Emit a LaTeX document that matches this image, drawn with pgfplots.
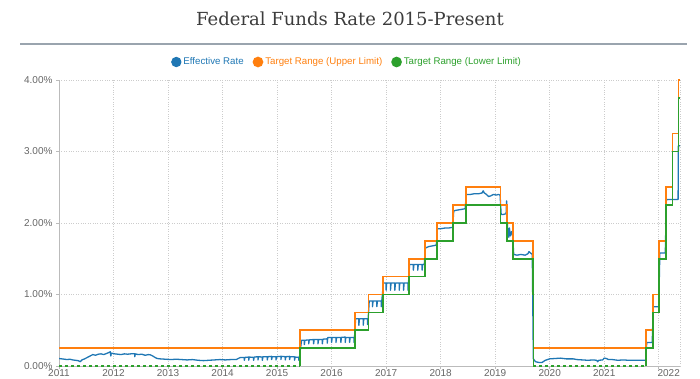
\documentclass[border=0pt]{standalone}
\usepackage{pgfplots}
\pgfplotsset{compat=1.18}
\usepackage{fontspec}
\setmainfont{Liberation Sans}
\newfontfamily\titlefont{DejaVu Serif}
\definecolor{cblue}{HTML}{1F77B4}
\definecolor{corange}{HTML}{FF7F0E}
\definecolor{cgreen}{HTML}{2CA02C}
\definecolor{tickgray}{HTML}{666666}
\definecolor{gridgray}{HTML}{CCCCCC}
\definecolor{axgray}{HTML}{BBBBBB}
\definecolor{rulegray}{HTML}{9AA4AE}
\definecolor{titlegray}{HTML}{3C3C3C}
\begin{document}
\begin{tikzpicture}[x=1pt,y=1pt]
\node[font=\titlefont\fontsize{18}{20}\selectfont, text=titlegray] at (350,359) {Federal Funds Rate 2015-Present};
\draw[rulegray, line width=1.5pt] (20,334) -- (687,334);
\begin{axis}[
  at={(59pt,12pt)}, anchor=south west,
  scale only axis, width=621pt, height=286pt,
  xmin=2011, xmax=2022.39, ymin=0, ymax=4,
  axis x line=bottom, axis y line=left,
  axis line style={-, axgray, line width=0.8pt},
  xtick={2011,2012,2013,2014,2015,2016,2017,2018,2019,2020,2021,2022},
  xticklabels={2011,2012,2013,2014,2015,2016,2017,2018,2019,2020,2021,\hspace*{20pt}2022},
  ytick={0,1,2,3,4},
  yticklabels={0.00\%,1.00\%,2.00\%,3.00\%,4.00\%},
  extra x ticks={2022.39}, extra x tick labels={},
  extra x tick style={grid=major, major tick length=0pt},
  grid=major, grid style={gridgray, dotted, line width=0.8pt},
  tick align=outside, major tick length=3pt,
  tick style={axgray, line width=0.6pt},
  tick label style={font=\fontsize{10}{12}\selectfont, text=tickgray},
  xticklabel style={yshift=2.6pt},
  /pgf/number format/assume math mode=true,
  legend style={at={(axis description cs:0.4638,1)}, anchor=center, yshift=18pt,
    draw=none, fill=none, legend columns=3, font=\fontsize{9.7}{11}\selectfont,
    /tikz/every even column/.append style={column sep=7pt}},
  legend image code/.code={\fill (3pt,0pt) circle (4.5pt);},
  legend cell align=left,
]
% Effective rate
\addplot[cblue, line width=1.3pt, line join=round, mark=none] coordinates {
(2011.00,0.105)(2011.05,0.10)(2011.10,0.095)(2011.15,0.09)(2011.20,0.095)(2011.25,0.085)(2011.30,0.08)(2011.35,0.075)(2011.39,0.06)(2011.42,0.085)(2011.47,0.10)(2011.52,0.12)(2011.57,0.14)(2011.62,0.16)(2011.67,0.15)(2011.72,0.165)(2011.77,0.17)(2011.82,0.16)(2011.87,0.175)(2011.92,0.19)(2011.94,0.20)(2011.95,0.14)(2011.96,0.18)(2012.02,0.17)(2012.08,0.165)(2012.14,0.16)(2012.20,0.17)(2012.26,0.165)(2012.32,0.17)(2012.39,0.17)(2012.39,0.13)(2012.40,0.17)(2012.45,0.16)(2012.52,0.165)(2012.58,0.15)(2012.64,0.16)(2012.68,0.155)(2012.72,0.14)(2012.76,0.12)(2012.80,0.105)(2012.85,0.10)(2012.95,0.095)(2013.05,0.09)(2013.15,0.095)(2013.25,0.09)(2013.35,0.085)(2013.45,0.09)(2013.55,0.08)(2013.65,0.075)(2013.75,0.08)(2013.85,0.085)(2013.95,0.09)(2014.05,0.085)(2014.15,0.09)(2014.25,0.09)(2014.30,0.11)
(2014.33,0.12)(2014.40,0.12)(2014.40,0.08)(2014.41,0.12)(2014.48,0.125)(2014.48,0.08)(2014.49,0.125)(2014.57,0.12)(2014.57,0.08)(2014.58,0.125)(2014.65,0.13)(2014.65,0.085)(2014.66,0.13)(2014.73,0.125)(2014.73,0.08)(2014.74,0.13)(2014.82,0.13)(2014.82,0.085)(2014.83,0.13)(2014.90,0.135)(2014.90,0.09)(2014.91,0.13)(2014.98,0.13)(2014.98,0.085)(2014.99,0.13)(2015.07,0.135)(2015.07,0.09)(2015.08,0.135)(2015.15,0.13)(2015.15,0.085)(2015.16,0.13)(2015.23,0.135)(2015.23,0.09)(2015.24,0.13)(2015.32,0.13)(2015.32,0.08)(2015.33,0.125)(2015.40,0.12)(2015.40,0.08)(2015.41,0.12)
(2015.43,0.25)(2015.45,0.36)
(2015.50,0.36)(2015.50,0.30)(2015.51,0.36)(2015.58,0.365)(2015.58,0.31)(2015.59,0.365)(2015.67,0.37)(2015.67,0.31)(2015.68,0.37)(2015.75,0.37)(2015.75,0.31)(2015.76,0.37)(2015.83,0.37)(2015.83,0.31)(2015.84,0.375)(2015.92,0.38)(2015.92,0.32)(2015.93,0.40)(2016.00,0.40)(2016.00,0.33)(2016.01,0.40)(2016.08,0.40)(2016.08,0.33)(2016.09,0.40)(2016.17,0.40)(2016.17,0.33)(2016.18,0.40)(2016.25,0.405)(2016.25,0.33)(2016.26,0.40)(2016.33,0.40)(2016.33,0.33)(2016.34,0.40)(2016.41,0.40)(2016.41,0.33)(2016.42,0.40)
(2016.44,0.66)
(2016.50,0.66)(2016.50,0.57)(2016.51,0.66)(2016.58,0.66)(2016.58,0.57)(2016.59,0.66)(2016.66,0.66)(2016.66,0.58)(2016.67,0.66)
(2016.69,0.91)
(2016.75,0.91)(2016.75,0.83)(2016.76,0.91)(2016.83,0.91)(2016.83,0.83)(2016.84,0.91)(2016.91,0.91)(2016.91,0.83)(2016.92,0.91)
(2016.95,1.16)
(2017.00,1.16)(2017.00,1.06)(2017.01,1.16)(2017.08,1.16)(2017.08,1.06)(2017.09,1.16)(2017.16,1.16)(2017.16,1.06)(2017.17,1.16)(2017.24,1.16)(2017.24,1.06)(2017.25,1.16)(2017.32,1.16)(2017.32,1.06)(2017.33,1.16)(2017.40,1.16)(2017.40,1.06)(2017.41,1.16)
(2017.43,1.42)
(2017.50,1.42)(2017.50,1.34)(2017.51,1.42)(2017.58,1.42)(2017.58,1.34)(2017.59,1.42)(2017.66,1.42)(2017.66,1.34)(2017.67,1.42)(2017.70,1.42)
(2017.72,1.65)(2017.78,1.67)(2017.85,1.68)(2017.92,1.69)
(2017.94,1.92)(2018.00,1.92)(2018.08,1.93)(2018.15,1.93)(2018.22,1.94)
(2018.24,2.17)(2018.30,2.18)(2018.38,2.19)(2018.45,2.20)
(2018.47,2.40)(2018.55,2.40)(2018.62,2.41)(2018.70,2.41)(2018.76,2.42)(2018.78,2.45)(2018.80,2.42)(2018.84,2.40)(2018.88,2.37)(2018.92,2.38)(2018.97,2.40)(2019.02,2.39)(2019.06,2.40)(2019.09,2.39)
(2019.11,2.12)(2019.15,2.12)(2019.20,2.13)(2019.21,2.31)(2019.215,2.10)
(2019.23,1.90)(2019.25,1.80)(2019.26,1.93)(2019.28,1.82)(2019.30,1.88)(2019.32,1.83)
(2019.34,1.56)(2019.40,1.55)(2019.47,1.56)(2019.55,1.55)(2019.60,1.57)(2019.62,1.60)(2019.65,1.58)(2019.68,1.56)
(2019.70,0.10)(2019.74,0.06)(2019.80,0.05)(2019.86,0.05)(2019.92,0.08)(2020.00,0.10)(2020.10,0.105)(2020.20,0.11)(2020.30,0.10)(2020.43,0.10)(2020.50,0.09)(2020.60,0.085)(2020.70,0.08)(2020.80,0.085)(2020.86,0.08)(2020.88,0.06)(2020.90,0.08)(2020.97,0.085)(2021.00,0.11)(2021.04,0.105)(2021.08,0.09)(2021.15,0.09)(2021.25,0.08)(2021.35,0.085)(2021.45,0.08)(2021.55,0.08)(2021.65,0.08)(2021.76,0.08)
(2021.78,0.33)(2021.88,0.33)(2021.90,0.83)(2022.00,0.83)(2022.02,1.58)(2022.12,1.58)(2022.14,2.33)(2022.355,2.33)(2022.36,3.08)(2022.39,3.08)
};
\addlegendentry{\textcolor{cblue}{Effective Rate}}
% Upper limit
\addplot[corange, line width=1.6pt, const plot, mark=none] coordinates {
(2011,0.25)(2015.42,0.5)(2016.43,0.75)(2016.68,1.0)(2016.94,1.25)(2017.42,1.5)(2017.71,1.75)(2017.93,2.0)(2018.23,2.25)(2018.46,2.5)(2019.10,2.25)(2019.22,2.0)(2019.33,1.75)(2019.69,1.25)(2019.70,0.25)(2021.77,0.5)(2021.89,1.0)(2022.01,1.75)(2022.13,2.5)(2022.25,3.25)(2022.36,4.0)(2022.39,4.0)
};
\addlegendentry{\textcolor{corange}{Target Range (Upper Limit)}}
% Lower limit
\addplot[cgreen, line width=1.6pt, const plot, mark=none] coordinates {
(2015.42,0)(2015.42,0.25)(2016.43,0.5)(2016.68,0.75)(2016.94,1.0)(2017.42,1.25)(2017.71,1.5)(2017.93,1.75)(2018.23,2.0)(2018.46,2.25)(2019.10,2.0)(2019.22,1.75)(2019.33,1.5)(2019.69,1.0)(2019.70,0)
};
\addlegendentry{\textcolor{cgreen}{Target Range (Lower Limit)}}
\addplot[cgreen, line width=1.2pt, dashed, mark=none, forget plot] coordinates {(2011,0)(2015.42,0)};
\addplot[cgreen, line width=1.2pt, dashed, mark=none, forget plot] coordinates {(2019.70,0)(2021.77,0)};
\addplot[cgreen, line width=1.6pt, const plot, mark=none, forget plot] coordinates {
(2021.77,0)(2021.77,0.25)(2021.89,0.75)(2022.01,1.5)(2022.13,2.25)(2022.25,3.0)(2022.36,3.75)(2022.39,3.75)
};
\end{axis}
\pgfresetboundingbox
\useasboundingbox (0,0) rectangle (700,378);
\end{tikzpicture}
\end{document}
